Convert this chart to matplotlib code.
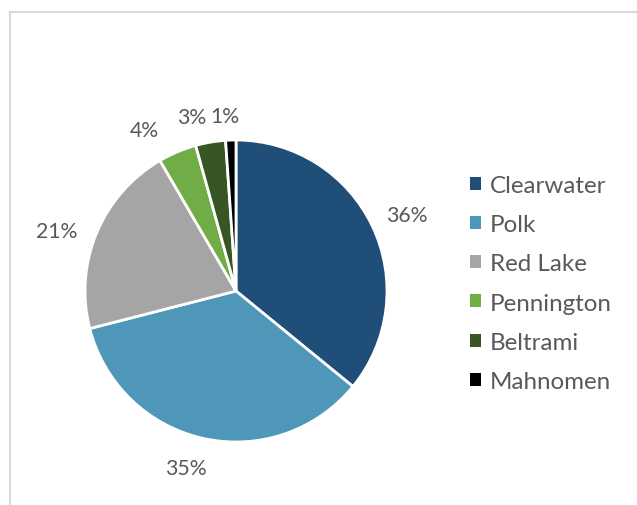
import matplotlib.pyplot as plt
from matplotlib.patches import Rectangle
from matplotlib.lines import Line2D
import numpy as np

plt.rcParams['font.family'] = ['Lato', 'DejaVu Sans']

# data
counties = ['Clearwater', 'Polk', 'Red Lake', 'Pennington', 'Beltrami', 'Mahnomen']
shares = [35.9, 35.1, 20.6, 4.1, 3.2, 1.1]
pct_labels = ['36%', '35%', '21%', '4%', '3%', '1%']
colors = ['#1F4E79', '#4E97B8', '#A5A5A5', '#70AD47', '#375623', '#000000']

W, H = 637, 506
fig = plt.figure(figsize=(W / 100, H / 100), dpi=100)

# pie axes: centre (236, 292) px, radius 151 px
cx, cy, r = 236, 292, 151
ax = fig.add_axes([(cx - r) / W, (H - cy - r) / H, 2 * r / W, 2 * r / H])
wedges, _ = ax.pie(shares, colors=colors, startangle=90, counterclock=False,
                   wedgeprops=dict(edgecolor='white', linewidth=2))
ax.set_xlim(-1, 1)
ax.set_ylim(-1, 1)

# data labels outside the slices (distance in radii, nudge in points)
dist = [1.25, 1.2, 1.31, 1.24, 1.17, 1.16]
nudge = [(0, -3.6), (-8, 0), (2, -11.5), (-13.7, -8.6), (-10.4, 0), (-4, 0)]
for w, lab, d, (nx, ny) in zip(wedges, pct_labels, dist, nudge):
    ang = np.deg2rad((w.theta1 + w.theta2) / 2)
    ax.annotate(lab, (d * np.cos(ang), d * np.sin(ang)), xytext=(nx, ny),
                textcoords='offset points', ha='center', va='center',
                fontsize=15.3, color='#595959', annotation_clip=False)

# legend
handles = [Rectangle((0, 0), 1, 1, facecolor=c) for c in colors]
fig.legend(handles, counties, loc='center left', bbox_to_anchor=(470 / W, 1 - 284.5 / H),
           frameon=False, fontsize=17.4, labelcolor='#595959', handlelength=0.45,
           handleheight=0.45, handletextpad=0.37, labelspacing=0.75,
           borderpad=0, borderaxespad=0)

# chart border (light grey)
fig.add_artist(Line2D([10 / W, 10 / W], [0, 1 - 13 / H], color='#D9D9D9', lw=1.5))
fig.add_artist(Line2D([10 / W, 1], [1 - 13 / H, 1 - 13 / H], color='#D9D9D9', lw=1.5))

fig.savefig('out.png', dpi=100)
